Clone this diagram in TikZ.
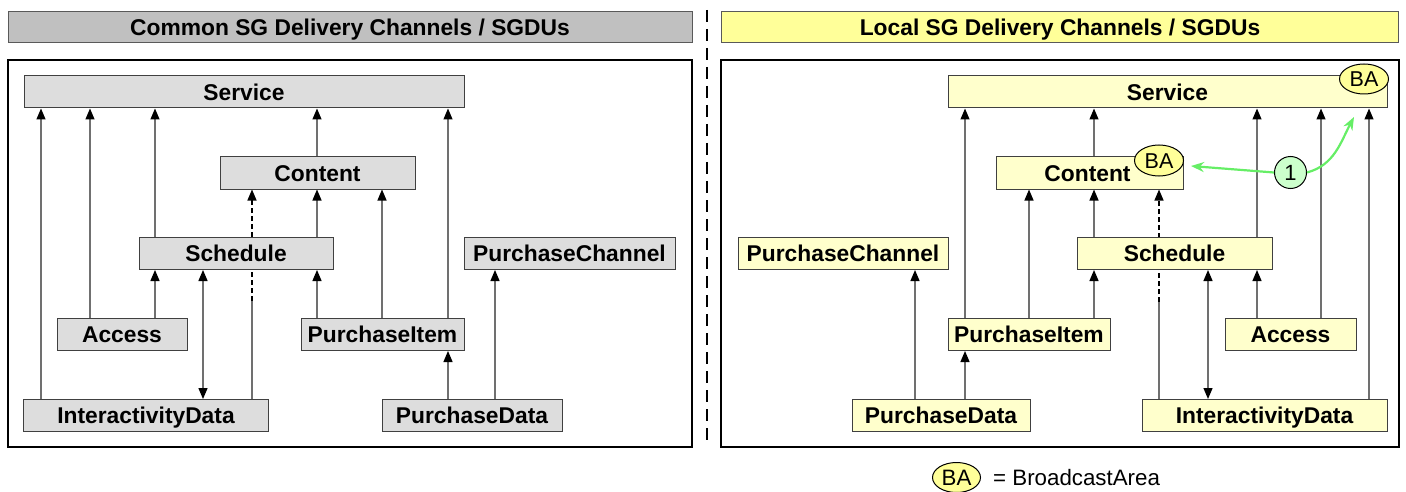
\documentclass[tikz,border=0pt]{standalone}
\usepackage{fontspec}
\setmainfont{Liberation Sans}
\usetikzlibrary{arrows.meta,shapes.geometric,backgrounds}
\definecolor{gfill}{HTML}{DDDDDD}
\definecolor{ghead}{HTML}{C0C0C0}
\definecolor{yfill}{HTML}{FFFFCC}
\definecolor{yhead}{HTML}{FFFF99}
\definecolor{baf}{HTML}{FFFF99}
\definecolor{grn}{HTML}{66EE66}
\definecolor{grnf}{HTML}{CCFFCC}
\definecolor{lin}{HTML}{707070}
\tikzset{
  box/.style={draw=black!75, line width=1pt, minimum height=32pt, inner sep=0pt,
    text height=16.4pt, text depth=0pt,
    font=\bfseries\fontsize{22.8}{26}\selectfont},
  gbox/.style={box, fill=gfill},
  ybox/.style={box, fill=yfill},
  head/.style={draw=black!65, line width=1pt, minimum height=31pt, inner sep=0pt,
    text height=16.4pt, text depth=0pt,
    font=\bfseries\fontsize{22.8}{26}\selectfont},
  frame/.style={draw=black, line width=1.2pt},
  arr/.style={draw=lin, line width=1.3pt, -{Triangle[length=11pt,width=9pt,black]}},
  darr/.style={draw=lin, line width=1.3pt, {Triangle[length=11pt,width=9pt,black]}-{Triangle[length=11pt,width=9pt,black]}},
  dsh/.style={draw=black, line width=1.3pt, dash pattern=on 5pt off 3pt, -{Triangle[length=11pt,width=9pt,black]}},
  plain/.style={draw=lin, line width=1.3pt},
  ba/.style={ellipse, draw=black, line width=1pt, fill=baf, inner sep=0pt,
    minimum width=49pt, minimum height=30pt, text height=15pt, text depth=0pt,
    font=\fontsize{21.5}{24}\selectfont},
  garr/.style={draw=grn, line width=2.2pt, -{Stealth[length=13pt,width=10pt]}},
  num/.style={circle, draw=black, line width=1pt, fill=grnf, inner sep=0pt,
    minimum size=32pt, text height=15.5pt, text depth=0pt, font=\fontsize{22}{24}\selectfont},
}
\begin{document}
\begin{tikzpicture}[x=1pt,y=-1pt]
\useasboundingbox (0,0) rectangle (1406,492);
% headers and frames
\node[head, fill=ghead, minimum width=684pt] (hL) at (350,27.5) {Common SG Delivery Channels / SGDUs};
\node[head, fill=yhead, minimum width=677pt] (hR) at (1060,27.5) {Local SG Delivery Channels / SGDUs};
\draw[frame] (8,60) rectangle (692,447);
\draw[frame] (721,60) rectangle (1399,447);
\coordinate (dv1) at (707,10);
\coordinate (dv2) at (707,447);
\draw[line width=2pt, dash pattern=on 12pt off 7pt] (dv1) -- (dv2);

% left nodes
\node[gbox, minimum width=440pt] (lS) at (244,92) {Service};
\node[gbox, minimum width=195pt] (lC) at (317.5,173) {Content};
\node[gbox, minimum width=194pt] (lSc) at (236,253.5) {Schedule};
\node[gbox, minimum width=211pt] (lPC) at (569.5,253.5) {PurchaseChannel};
\node[gbox, minimum width=130pt] (lA) at (122,334.5) {Access};
\node[gbox, minimum width=163pt] (lPI) at (382.5,334.5) {PurchaseItem};
\node[gbox, minimum width=245pt] (lID) at (146,415.5) {InteractivityData};
\node[gbox, minimum width=180pt] (lPD) at (472,415.5) {PurchaseData};

% right nodes
\node[ybox, minimum width=439pt] (rS) at (1167.5,92) {Service};
\node[ybox, minimum width=187pt] (rC) at (1089.5,173) {\hspace*{-4pt}Content};
\node[ybox, minimum width=210pt] (rPC) at (843,253.5) {PurchaseChannel};
\node[ybox, minimum width=195pt] (rSc) at (1174.5,253.5) {Schedule};
\node[ybox, minimum width=162pt] (rPI) at (1029,334.5) {PurchaseItem};
\node[ybox, minimum width=131pt] (rA) at (1290.5,334.5) {Access};
\node[ybox, minimum width=178pt] (rPD) at (941,415.5) {PurchaseData};
\node[ybox, minimum width=245pt] (rID) at (1264.5,415.5) {InteractivityData};
\node[ba] (baS) at (1364,79) {BA};
\node[ba, minimum height=31pt] (baC) at (1159,160.5) {BA};
\node[num] (one) at (1290.5,172.5) {1};

% legend
\node[ba, minimum width=48pt, minimum height=30pt, font=\fontsize{22.3}{24}\selectfont] (baL) at (956.5,477.5) {BA};
\node[anchor=base west, inner sep=0pt, font=\fontsize{22.3}{24}\selectfont] (lgt) at (993,485) {= BroadcastArea};

\begin{scope}[on background layer]
% left connectors
\draw[arr] (lID.north -| 41,0) -- (lS.south -| 41,0);
\draw[arr] (lA.north -| 90,0) -- (lS.south -| 90,0);
\draw[arr] (lSc.north -| 155,0) -- (lS.south -| 155,0);
\draw[arr] (lC.north -| 317,0) -- (lS.south -| 317,0);
\draw[arr] (lPI.north -| 448,0) -- (lS.south -| 448,0);
\draw[arr] (lSc.north -| 317,0) -- (lC.south -| 317,0);
\draw[arr] (lPI.north -| 382,0) -- (lC.south -| 382,0);
\coordinate (ldc) at (252,301);
\draw[plain] (lID.north -| ldc) -- (ldc);
\draw[dsh] (ldc) -- (lC.south -| ldc);
\draw[arr] (lA.north -| 155,0) -- (lSc.south -| 155,0);
\draw[darr] (lSc.south -| 203,0) -- (lID.north -| 203,0);
\draw[arr] (lPI.north -| 317,0) -- (lSc.south -| 317,0);
\draw[arr] (lPD.north -| 448,0) -- (lPI.south -| 448,0);
\draw[arr] (lPD.north -| 495,0) -- (lPC.south -| 495,0);
% right connectors
\draw[arr] (rPI.north -| 965,0) -- (rS.south -| 965,0);
\draw[arr] (rC.north -| 1094,0) -- (rS.south -| 1094,0);
\draw[arr] (rSc.north -| 1257,0) -- (rS.south -| 1257,0);
\draw[arr] (rA.north -| 1321,0) -- (rS.south -| 1321,0);
\draw[arr] (rID.north -| 1369,0) -- (rS.south -| 1369,0);
\draw[arr] (rPI.north -| 1029,0) -- (rC.south -| 1029,0);
\draw[arr] (rSc.north -| 1094,0) -- (rC.south -| 1094,0);
\coordinate (rdc) at (1159,302);
\draw[plain] (rID.north -| rdc) -- (rdc);
\draw[dsh] (rdc) -- (rC.south -| rdc);
\draw[arr] (rPD.north -| 915,0) -- (rPC.south -| 915,0);
\draw[arr] (rPD.north -| 965,0) -- (rPI.south -| 965,0);
\draw[arr] (rPI.north -| 1094,0) -- (rSc.south -| 1094,0);
\draw[darr] (rSc.south -| 1208,0) -- (rID.north -| 1208,0);
\draw[arr] (rA.north -| 1257,0) -- (rSc.south -| 1257,0);
\end{scope}
% green arrows
\coordinate (gt1) at (1191,166);
\coordinate (gt2) at (1354,117);
\draw[garr] (one.west) -- (gt1);
\draw[garr] (one.east) to[out=15,in=-118] (gt2);
\end{tikzpicture}
\end{document}
